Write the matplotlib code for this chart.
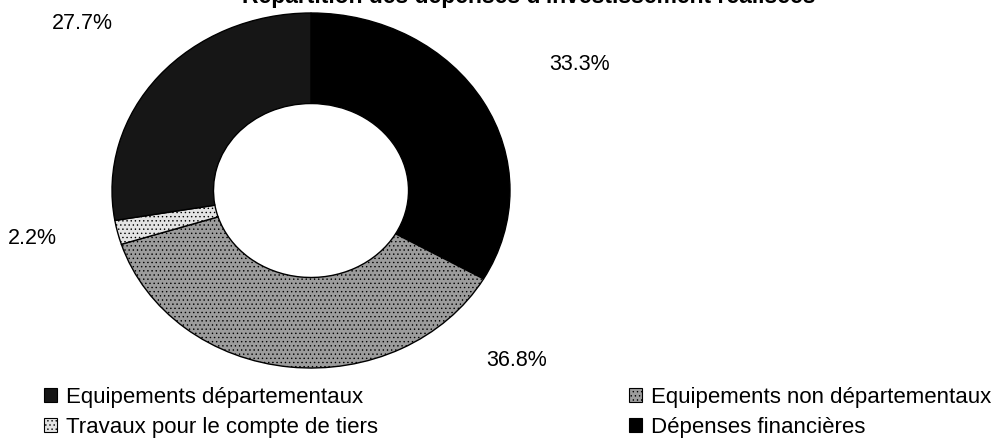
import numpy as np
import matplotlib.pyplot as plt
from matplotlib.patches import Patch

plt.rcParams['font.family'] = ['Liberation Sans', 'DejaVu Sans']
plt.rcParams['hatch.color'] = '#6a6a6a'
plt.rcParams['hatch.linewidth'] = 0.5

# shares, clockwise from 12 o'clock
categories = ["Dépenses financières", "Equipements non départementaux",
              "Travaux pour le compte de tiers", "Equipements départementaux"]
values = [33.3, 36.8, 2.2, 27.7]
colors = ["#000000", "#9c9c9c", "#e4e4e4", "#161616"]
hatches = [None, "....", "....", None]

# label positions (data coords of the pie axes)
label_xy = [(1.347, 0.708), (1.035, -0.96), (-1.40, -0.269), (-1.148, 0.94)]

W, H = 1003, 441
fig = plt.figure(figsize=(W / 100, H / 100), dpi=100)

# squashed doughnut: axes box spans the outer ellipse
ax = fig.add_axes([112 / W, 73 / H, 398 / W, 355 / H])
wedges, _ = ax.pie(values, colors=colors, startangle=90, counterclock=False,
                   radius=1.0, wedgeprops=dict(width=0.51, edgecolor="black",
                                               linewidth=1.0))
for w, h in zip(wedges, hatches):
    if h:
        w.set_hatch(h)
ax.set_aspect("auto")
ax.set_xlim(-1, 1)
ax.set_ylim(-1, 1)
ax.axis("off")

for v, (x, y) in zip(values, label_xy):
    ax.text(x, y, f"{v:.1f}%", ha="center", va="center", fontsize=15.5,
            clip_on=False)

# title sits mostly above the top edge
fig.text(529 / W, 1 - 3 / H, "Répartition des dépenses d'investissement réalisées",
         ha="center", va="baseline", fontsize=16.5, fontweight="bold")

# legend, two columns far apart
handles = {i: Patch(facecolor=colors[i], edgecolor="black", hatch=hatches[i],
                    linewidth=0.8) for i in range(4)}
left = [3, 2]
right = [1, 0]
for idx, x0 in ((left, 33), (right, 618)):
    fig.legend([handles[i] for i in idx], [categories[i] for i in idx],
               loc="upper left", bbox_to_anchor=(x0 / W, 1 - 376 / H),
               frameon=False, fontsize=16, handlelength=0.6, handleheight=0.6,
               handletextpad=0.4, labelspacing=0.4, borderpad=0)

fig.savefig("out.png", dpi=100)
